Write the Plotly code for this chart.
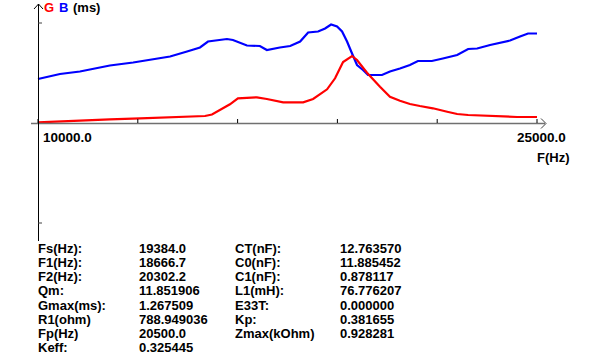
import plotly.graph_objects as go

# ---------------- data ----------------
freq_B = [10000, 10360, 10660, 11260, 11860, 12160, 12860, 13370, 13970, 14480, 14870,
          15110, 15680, 15860, 16280, 16670, 16880, 17270, 17580, 17880, 18120, 18420,
          18630, 18810, 18990, 19140, 19290, 19440, 19590, 19770, 19920, 20340, 20580,
          20880, 21180, 21420, 21840, 22170, 22600, 22930, 23200, 23590, 23890, 24190,
          24490, 24730, 25000]
B_ms = [0.88, 0.94, 0.98, 1.03, 1.10, 1.15, 1.21, 1.26, 1.33, 1.43, 1.51,
        1.63, 1.68, 1.66, 1.55, 1.54, 1.46, 1.51, 1.54, 1.63, 1.81, 1.83,
        1.89, 1.97, 1.93, 1.83, 1.63, 1.39, 1.16, 1.06, 0.96, 0.96, 1.03,
        1.09, 1.16, 1.24, 1.24, 1.29, 1.36, 1.48, 1.49, 1.56, 1.61, 1.65,
        1.73, 1.79, 1.79]

freq_G = [10000, 10960, 12160, 13070, 13970, 14570, 15020, 15230, 15470, 15770, 16010,
          16580, 16880, 17370, 17970, 18270, 18690, 18930, 19170, 19440, 19590, 19890,
          20280, 20580, 20880, 21180, 21480, 21870, 22300, 22600, 22930, 23500, 24400,
          25000]
G_ms = [0.014, 0.046, 0.074, 0.094, 0.114, 0.126, 0.14, 0.17, 0.26, 0.374, 0.494,
        0.514, 0.48, 0.414, 0.414, 0.48, 0.674, 0.894, 1.22, 1.34, 1.26, 1.006,
        0.726, 0.526, 0.446, 0.38, 0.34, 0.294, 0.226, 0.18, 0.16, 0.14, 0.12,
        0.12]

x_ticks = [10000, 13000, 16000, 19000, 22000, 25000]
x_tick_labels = ["10000.0", "25000.0"]
y_ticks = [2.0, -2.0]

labels_left = ["Fs(Hz):", "F1(Hz):", "F2(Hz):", "Qm:", "Gmax(ms):", "R1(ohm)", "Fp(Hz)", "Keff:"]
values_left = ["19384.0", "18666.7", "20302.2", "11.851906", "1.267509", "788.949036", "20500.0", "0.325445"]
labels_right = ["CT(nF):", "C0(nF):", "C1(nF):", "L1(mH):", "E33T:", "Kp:", "Zmax(kOhm)"]
values_right = ["12.763570", "11.885452", "0.878117", "76.776207", "0.000000", "0.381655", "0.928281"]

# ---------------- layout helpers ----------------
W, H = 606, 364
X0_PX, X1_PX = 38, 537          # pixel positions of 10000 and 25000
ZERO_PX, PX_PER_UNIT = 123, 50  # y pixel of 0 and pixels per ms
fx = (x_ticks[-1] - x_ticks[0]) / (X1_PX - X0_PX)
x_range = [x_ticks[0] - X0_PX * fx, x_ticks[0] + (W - X0_PX) * fx]
y_range = [(ZERO_PX - H) / PX_PER_UNIT, ZERO_PX / PX_PER_UNIT]


def pxx(p):
    return p / W


def pxy(p):
    return 1 - p / H


FONT = "Liberation Sans, Arial, sans-serif"

fig = go.Figure()
fig.add_trace(go.Scatter(x=freq_B, y=B_ms, mode="lines", line=dict(color="#0000ff", width=2.2),
                         hoverinfo="skip", showlegend=False))
fig.add_trace(go.Scatter(x=freq_G, y=G_ms, mode="lines", line=dict(color="#ff0000", width=2.2),
                         hoverinfo="skip", showlegend=False))

shapes = []
# x axis line (gray)
shapes.append(dict(type="line", xref="paper", yref="paper", x0=pxx(31), x1=pxx(545),
                   y0=pxy(123.5), y1=pxy(123.5), line=dict(color="#707070", width=1.6)))
# x arrow
shapes.append(dict(type="path", xref="paper", yref="paper",
                   path=f"M {pxx(541)},{pxy(118.5)} L {pxx(546)},{pxy(123.5)} L {pxx(541)},{pxy(128.5)}",
                   line=dict(color="#404040", width=1)))
# y axis line
shapes.append(dict(type="line", xref="paper", yref="paper", x0=pxx(38.5), x1=pxx(38.5),
                   y0=pxy(4), y1=pxy(241), line=dict(color="black", width=1)))
# y arrow
shapes.append(dict(type="path", xref="paper", yref="paper",
                   path=f"M {pxx(34)},{pxy(9)} L {pxx(38.5)},{pxy(4)} L {pxx(43)},{pxy(9)}",
                   line=dict(color="black", width=1)))
# x ticks (upward)
for t in x_ticks:
    shapes.append(dict(type="line", xref="x", yref="y", x0=t, x1=t,
                       y0=0, y1=4 / PX_PER_UNIT, line=dict(color="black", width=1)))
# y ticks
for t in y_ticks:
    shapes.append(dict(type="line", xref="x", yref="y", x0=x_ticks[0], x1=x_ticks[0] + 4 * fx,
                       y0=t, y1=t, line=dict(color="#404040", width=1)))

ann = []


def txt(x, y, s, color="black", size=13, anchor="left"):
    ann.append(dict(x=pxx(x), y=pxy(y), xref="paper", yref="paper", text=s, showarrow=False,
                    xanchor=anchor, yanchor="middle",
                    font=dict(family=FONT, size=size, color=color), borderpad=0))


txt(42, 137, "<b>" + x_tick_labels[0] + "</b>", size=13.5)
txt(516, 137, "<b>" + x_tick_labels[1] + "</b>", size=13.5)
txt(536, 157, "<b>F(Hz)</b>")
txt(43, 7, "<b>G</b>", color="#ff0000")
txt(58, 7, "<b>B</b>", color="#0000ff")
txt(72, 7, "<b>(ms)</b>")

row0, drow = 248.5, 14.15
for i, (l, v) in enumerate(zip(labels_left, values_left)):
    txt(37, row0 + i * drow, "<b>" + l + "</b>")
    txt(138, row0 + i * drow, "<b>" + v + "</b>")
for i, (l, v) in enumerate(zip(labels_right, values_right)):
    txt(234, row0 + i * drow, "<b>" + l + "</b>")
    txt(339, row0 + i * drow, "<b>" + v + "</b>")

fig.update_layout(
    width=W, height=H, margin=dict(l=0, r=0, t=0, b=0),
    paper_bgcolor="white", plot_bgcolor="white",
    xaxis=dict(range=x_range, visible=False, fixedrange=True),
    yaxis=dict(range=y_range, visible=False, fixedrange=True),
    shapes=shapes, annotations=ann, showlegend=False,
)
fig.write_html("out.html", config={"displayModeBar": False},
               post_script="document.body.style.margin='0px';document.body.style.overflow='hidden';")
